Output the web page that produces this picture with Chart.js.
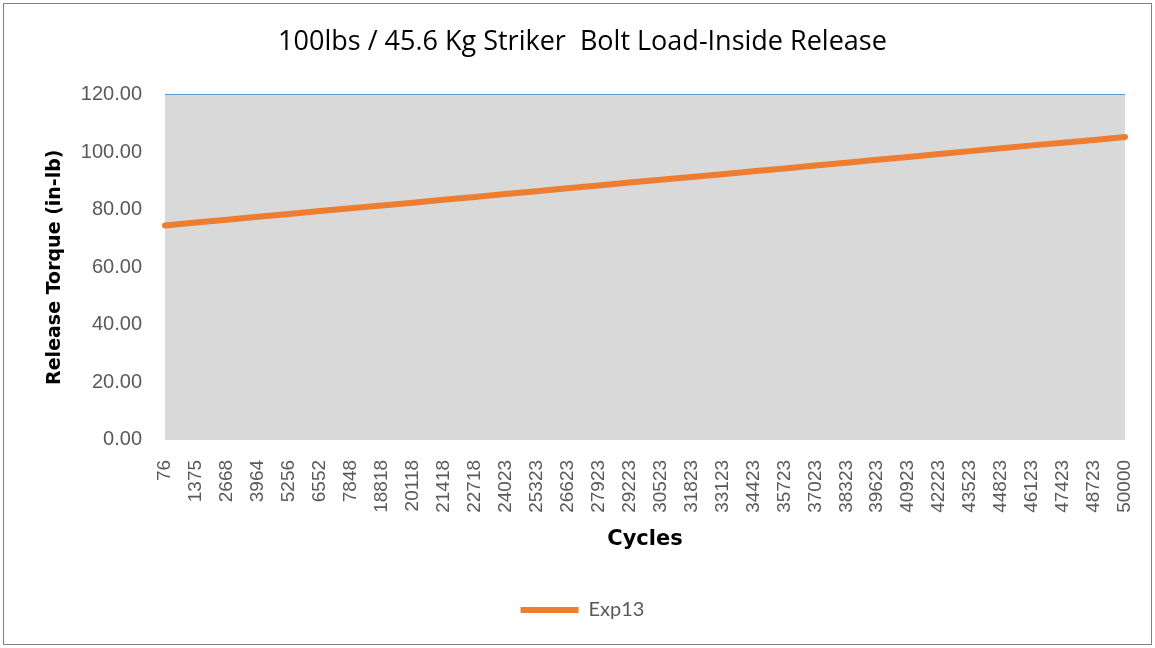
<!DOCTYPE html>
<html>
<head>
<meta charset="utf-8">
<script src="https://cdn.jsdelivr.net/npm/chart.js@4/dist/chart.umd.min.js"></script>
<style>
  html, body { margin: 0; padding: 0; background: #fff; }
  #wrap { position: relative; width: 1155px; height: 648px; }
</style>
</head>
<body>
<div id="wrap"><canvas id="myChart" width="1155" height="648"></canvas></div>
<script>
// cycle labels on the x axis
const cycles = [
  '76', '1375', '2668', '3964', '5256', '6552', '7848', '18818', '20118', '21418',
  '22718', '24023', '25323', '26623', '27923', '29223', '30523', '31823', '33123', '34423',
  '35723', '37023', '38323', '39623', '40923', '42223', '43523', '44823', '46123', '47423',
  '48723', '50000'
];
// release torque (in-lb)
const exp13 = [
  74.5, 75.5, 76.5, 77.5, 78.5, 79.5, 80.5, 81.4, 82.4, 83.4,
  84.4, 85.4, 86.4, 87.4, 88.4, 89.4, 90.4, 91.3, 92.3, 93.3,
  94.3, 95.3, 96.3, 97.3, 98.3, 99.3, 100.3, 101.3, 102.3, 103.2,
  104.2, 105.2
];
const yTicks = [0, 20, 40, 60, 80, 100, 120];

// grey plot area + outer frame
const plotBg = {
  id: 'plotBg',
  beforeDraw(chart) {
    const { ctx, chartArea: a } = chart;
    ctx.save();
    ctx.strokeStyle = '#808080';
    ctx.lineWidth = 1;
    ctx.strokeRect(3.5, 3.5, chart.width - 7, chart.height - 7);
    ctx.fillStyle = '#d9d9d9';
    ctx.fillRect(a.left, a.top, a.right - a.left, a.bottom - a.top);
    ctx.restore();
  }
};

const ctx = document.getElementById('myChart').getContext('2d');
new Chart(ctx, {
  type: 'line',
  data: {
    labels: cycles,
    datasets: [{
      label: 'Exp13',
      data: exp13,
      borderColor: '#ed7d31',
      backgroundColor: '#ed7d31',
      borderWidth: 6,
      borderCapStyle: 'round',
      pointRadius: 0,
      pointStyle: 'line',
      tension: 0
    }]
  },
  options: {
    responsive: false,
    animation: false,
    layout: { padding: { left: 40, right: 30, top: 10, bottom: 18 } },
    plugins: {
      title: {
        display: true,
        text: '100lbs / 45.6 Kg Striker  Bolt Load-Inside Release',
        color: '#000',
        font: { family: 'Open Sans', size: 27, weight: 'normal' },
        padding: { top: 16, bottom: 36 }
      },
      legend: {
        position: 'bottom',
        labels: {
          usePointStyle: true,
          pointStyle: 'line',
          pointStyleWidth: 58,
          color: '#595959',
          font: { family: 'Lato', size: 20 },
          padding: 10
        }
      },
      tooltip: { enabled: false }
    },
    scales: {
      x: {
        offset: false,
        afterFit(axis) { axis.paddingRight = 0; },
        grid: { display: false },
        border: { display: false },
        ticks: {
          autoSkip: false,
          maxRotation: 90,
          minRotation: 90,
          color: '#595959',
          font: { family: 'Liberation Sans', size: 19 },
          padding: 12
        },
        title: {
          display: true,
          text: 'Cycles',
          color: '#000',
          font: { family: 'DejaVu Sans', size: 21, weight: 'bold' },
          padding: { top: 2, bottom: 38 }
        }
      },
      y: {
        min: 0,
        max: 120,
        afterBuildTicks(axis) { axis.ticks = yTicks.map(v => ({ value: v })); },
        afterFit(axis) { axis.width = 125; },
        grid: {
          drawTicks: false,
          color: c => c.tick && c.tick.value === 120 ? '#5b9bd5' : 'rgba(0,0,0,0)'
        },
        border: { display: false },
        ticks: {
          color: '#595959',
          font: { family: 'Liberation Sans', size: 20 },
          padding: 23,
          callback: v => v.toFixed(2)
        },
        title: {
          display: true,
          text: 'Release Torque (in-lb)',
          color: '#000',
          font: { family: 'DejaVu Sans', size: 19, weight: 'bold' },
          padding: { top: 4, bottom: 10 }
        }
      }
    }
  },
  plugins: [plotBg]
});
</script>
</body>
</html>
